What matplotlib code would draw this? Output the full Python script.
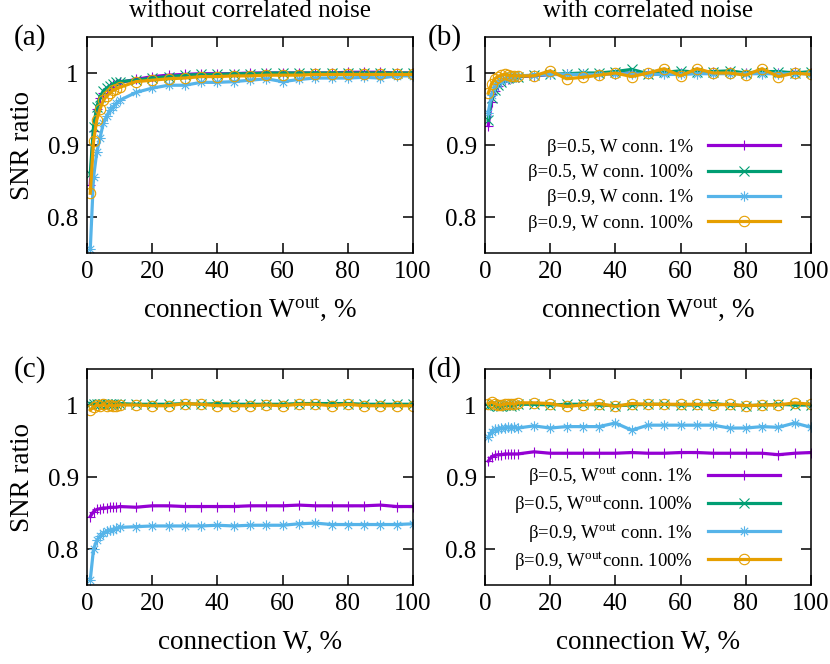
import matplotlib
matplotlib.use('Agg')
import matplotlib.pyplot as plt
from matplotlib.path import Path

plt.rcParams['font.family'] = ['Liberation Serif', 'DejaVu Serif']
plt.rcParams['mathtext.fontset'] = 'custom'
plt.rcParams['mathtext.rm'] = 'Liberation Serif'
plt.rcParams['mathtext.it'] = 'Liberation Serif:italic'

# connection percentage (x axis of every panel)
conn = [1, 2, 3, 4, 5, 6, 7, 8, 9, 10, 15, 20, 25, 30, 35, 40, 45, 50,
        55, 60, 65, 70, 75, 80, 85, 90, 95, 100]

# (a) without correlated noise, x = W^out connection
a_b05_w1 = [0.845, 0.920, 0.950, 0.965, 0.972, 0.977, 0.980, 0.983, 0.985, 0.987, 0.991, 0.995, 0.997, 0.998,
            0.999, 0.999, 0.999, 1.000, 1.000, 1.000, 1.000, 1.000, 1.000, 1.001, 1.001, 1.001, 1.000, 1.000]
a_b05_w100 = [0.860, 0.925, 0.953, 0.967, 0.975, 0.979, 0.982, 0.985, 0.987, 0.988, 0.990, 0.993, 0.995, 0.997,
              0.998, 0.998, 0.999, 0.999, 1.000, 1.000, 1.000, 1.000, 1.000, 1.000, 1.000, 1.000, 1.000, 1.000]
a_b09_w1 = [0.755, 0.855, 0.890, 0.910, 0.930, 0.940, 0.948, 0.953, 0.958, 0.962, 0.973, 0.979, 0.983, 0.983,
            0.987, 0.987, 0.988, 0.990, 0.992, 0.988, 0.991, 0.993, 0.993, 0.993, 0.994, 0.993, 0.996, 0.996]
a_b09_w100 = [0.833, 0.905, 0.935, 0.950, 0.962, 0.968, 0.972, 0.976, 0.978, 0.980, 0.988, 0.990, 0.992, 0.993,
              0.995, 0.995, 0.996, 0.996, 0.997, 0.997, 0.997, 0.998, 0.998, 0.998, 0.998, 0.998, 0.998, 0.998]

# (b) with correlated noise, x = W^out connection
b_b05_w1 = [0.927, 0.960, 0.975, 0.982, 0.987, 0.990, 0.991, 0.993, 0.994, 0.995, 0.996, 0.998, 0.998, 0.998,
            0.999, 0.999, 1.000, 1.000, 1.000, 1.000, 1.001, 1.001, 1.001, 1.000, 1.000, 1.000, 1.001, 1.000]
b_b05_w100 = [0.935, 0.965, 0.977, 0.984, 0.988, 0.991, 0.993, 0.994, 0.995, 0.995, 0.997, 0.998, 0.999, 1.000,
              1.000, 1.002, 1.005, 0.999, 1.001, 1.003, 1.001, 1.002, 1.003, 1.000, 1.002, 1.002, 1.000, 1.002]
b_b09_w1 = [0.945, 0.970, 0.980, 0.986, 0.990, 0.992, 0.993, 0.994, 0.995, 0.996, 0.997, 0.998, 0.998, 0.998,
            0.998, 0.999, 0.999, 0.998, 0.998, 0.998, 0.999, 0.999, 0.999, 0.999, 0.999, 0.999, 0.999, 0.999]
b_b09_w100 = [0.972, 0.985, 0.992, 0.995, 0.997, 0.998, 0.997, 0.996, 0.996, 0.996, 0.996, 1.003, 0.992, 0.994,
              0.997, 1.000, 0.995, 1.000, 1.006, 0.996, 1.006, 1.000, 1.000, 0.997, 1.006, 0.995, 1.000, 0.998]

# (c) without correlated noise, x = W connection
c_b05_w1 = [0.845, 0.852, 0.855, 0.856, 0.857, 0.857, 0.858, 0.858, 0.858, 0.859, 0.858, 0.860, 0.860, 0.859,
            0.859, 0.859, 0.859, 0.860, 0.860, 0.860, 0.861, 0.860, 0.860, 0.860, 0.860, 0.861, 0.859, 0.859]
c_b05_w100 = [1.002, 1.001, 1.001, 1.002, 1.002, 1.001, 1.001, 1.001, 1.001, 1.002, 1.001, 1.001, 1.001, 1.002,
              1.001, 1.002, 1.001, 1.001, 1.001, 1.001, 1.002, 1.002, 1.002, 1.002, 1.001, 1.001, 1.001, 1.001]
c_b09_w1 = [0.757, 0.800, 0.812, 0.818, 0.822, 0.825, 0.826, 0.827, 0.829, 0.830, 0.831, 0.832, 0.832, 0.832,
            0.832, 0.833, 0.832, 0.833, 0.833, 0.833, 0.835, 0.836, 0.834, 0.834, 0.834, 0.834, 0.834, 0.835]
c_b09_w100 = [0.993, 0.997, 1.000, 0.999, 1.001, 0.998, 1.000, 0.999, 0.999, 1.000, 1.000, 0.999, 0.999, 1.002,
              1.001, 0.999, 0.999, 0.999, 1.000, 0.999, 1.001, 1.001, 0.999, 1.001, 0.999, 0.999, 0.999, 0.999]

# (d) with correlated noise, x = W connection
d_b05_w1 = [0.922, 0.928, 0.930, 0.931, 0.931, 0.932, 0.932, 0.932, 0.932, 0.932, 0.935, 0.933, 0.933, 0.933,
            0.933, 0.933, 0.934, 0.933, 0.933, 0.934, 0.934, 0.933, 0.933, 0.933, 0.933, 0.931, 0.933, 0.934]
d_b05_w100 = [0.999, 1.001, 1.000, 0.999, 0.999, 1.000, 1.000, 0.999, 1.000, 1.001, 1.001, 1.000, 1.001, 1.001,
              1.000, 0.999, 1.000, 1.001, 1.001, 1.000, 1.000, 1.002, 1.000, 0.999, 1.000, 1.001, 1.000, 1.000]
d_b09_w1 = [0.955, 0.963, 0.966, 0.967, 0.968, 0.968, 0.969, 0.968, 0.969, 0.968, 0.971, 0.968, 0.970, 0.970,
            0.970, 0.975, 0.965, 0.972, 0.972, 0.972, 0.972, 0.972, 0.968, 0.968, 0.970, 0.969, 0.975, 0.969]
d_b09_w100 = [1.002, 1.004, 1.002, 1.000, 1.000, 1.001, 1.002, 1.002, 1.001, 1.003, 1.003, 1.002, 0.998, 1.000,
              1.002, 0.998, 1.002, 1.001, 1.001, 1.001, 1.001, 1.000, 1.001, 0.999, 1.000, 1.000, 1.003, 1.001]

labels_w = ['\u03b2=0.5, W conn. 1%', '\u03b2=0.5, W conn. 100%',
            '\u03b2=0.9, W conn. 1%', '\u03b2=0.9, W conn. 100%']
labels_wout = ['\u03b2=0.5, W$^{\\rm out}$ conn. 1%', '\u03b2=0.5, W$^{\\rm out}$conn. 100%',
               '\u03b2=0.9, W$^{\\rm out}$ conn. 1%', '\u03b2=0.9, W$^{\\rm out}$conn. 100%']

xticks = [0, 20, 40, 60, 80, 100]
yticks = [0.8, 0.9, 1.0]
ytick_labels = ['0.8', '0.9', '1']

colors = ['#9400d3', '#009e73', '#56b4e9', '#e69f00']

# gnuplot style asterisk (plus and cross together)
r = 0.7071
star = Path([(-1, 0), (1, 0), (0, -1), (0, 1), (-r, -r), (r, r), (-r, r), (r, -r)],
            [Path.MOVETO, Path.LINETO] * 4)
markers = ['+', 'x', star, 'o']

fig = plt.figure(figsize=(8.3, 6.64), dpi=100)

W, H = 830.0, 664.0
boxes = {'a': (87, 37), 'b': (485, 37), 'c': (87, 369), 'd': (485, 369)}
aw, ah = 326, 216

# legend anchor height and row spacing per panel (plain text rows are shorter than mathtext rows)
leg_y = {'b': 0.098, 'd': 0.061}
leg_sp = {'b': 0.44, 'd': 0.33}

panels = [
    ('a', [a_b05_w1, a_b05_w100, a_b09_w1, a_b09_w100], r'connection W$^{\rm out}$, %', None, 'without correlated noise'),
    ('b', [b_b05_w1, b_b05_w100, b_b09_w1, b_b09_w100], r'connection W$^{\rm out}$, %', labels_w, 'with correlated noise'),
    ('c', [c_b05_w1, c_b05_w100, c_b09_w1, c_b09_w100], 'connection W, %', None, None),
    ('d', [d_b05_w1, d_b05_w100, d_b09_w1, d_b09_w100], 'connection W, %', labels_wout, None),
]

for tag, series, xlab, leg_labels, title in panels:
    left, top = boxes[tag]
    ax = fig.add_axes([left / W, 1 - (top + ah) / H, aw / W, ah / H])
    for i, ys in enumerate(series):
        ax.plot(conn, ys, color=colors[i], lw=2.3, marker=markers[i], ms=7.5,
                mew=0.8, mfc='none', mec=colors[i],
                label=leg_labels[i] if leg_labels else None)
    ax.set_xlim(0, 100)
    ax.set_ylim(0.75, 1.05)
    ax.set_xticks(xticks)
    ax.set_yticks(yticks)
    ax.set_yticklabels(ytick_labels)
    ax.tick_params(direction='in', top=True, right=True, length=7, width=1.1,
                   labelsize=18, pad=6)
    for s in ax.spines.values():
        s.set_linewidth(1.1)
    ax.set_xlabel(xlab, fontsize=19.5)
    ax.xaxis.label.set_va('baseline')
    ax.xaxis.set_label_coords(0.5, -0.295)
    if tag in ('a', 'c'):
        ax.set_ylabel('SNR ratio', fontsize=19.5)
        ax.yaxis.label.set_va('baseline')
        ax.yaxis.set_label_coords(-0.178, 0.5)
    if title:
        ax.text(0.5, 1 + 20.0 / ah, title, transform=ax.transAxes,
                ha='center', va='baseline', fontsize=18)
    if leg_labels:
        ax.legend(loc='lower right', bbox_to_anchor=(0.905, leg_y[tag]), frameon=False,
                  markerfirst=False, fontsize=13.5, handlelength=3.85,
                  handletextpad=0.8, labelspacing=leg_sp[tag], borderpad=0,
                  borderaxespad=0, numpoints=1)
    fig.text((left - 57) / W if tag in ('a', 'c') else (left - 40) / W,
             1 - (top + 1) / H, '(' + tag + ')', ha='center', va='center', fontsize=21)

fig.savefig('out.png', dpi=100)
